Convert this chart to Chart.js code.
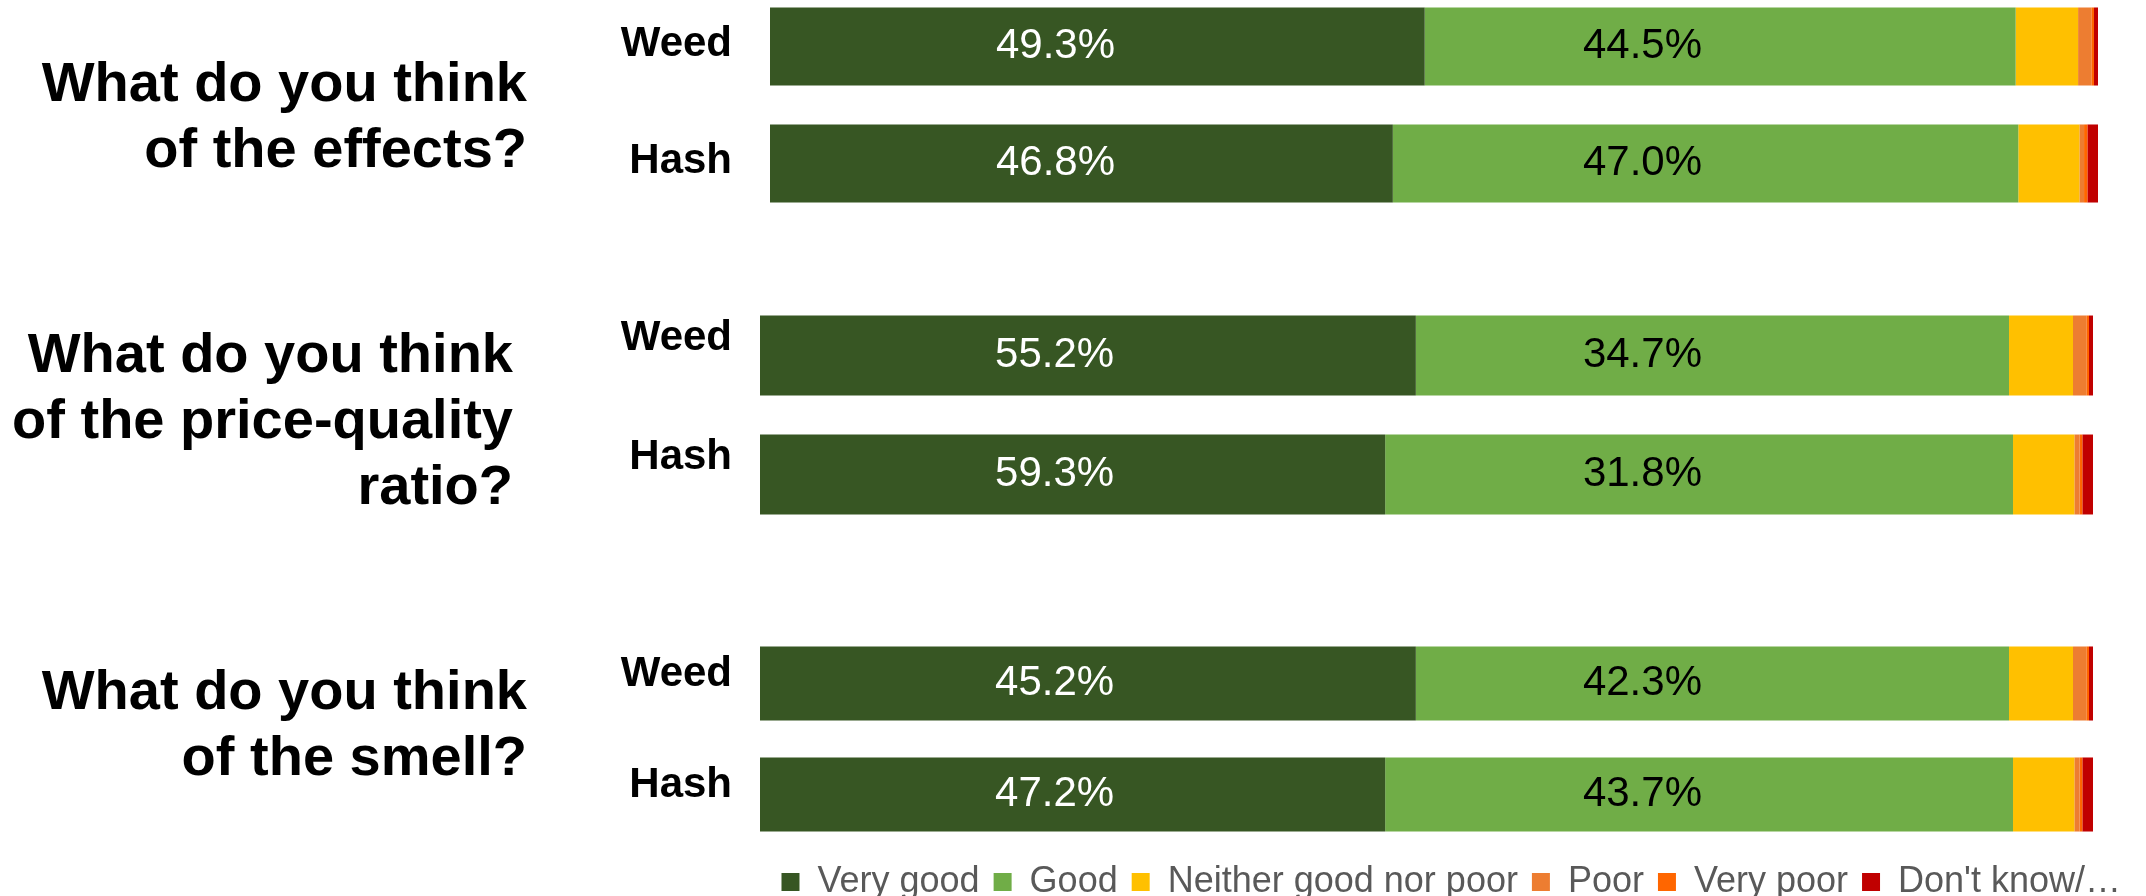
<!DOCTYPE html>
<html>
<head>
<meta charset="utf-8">
<title>Weed vs hash ratings</title>
<script src="https://cdn.jsdelivr.net/npm/chart.js@4.4.1/dist/chart.umd.min.js"></script>
<style>
  html, body { margin: 0; padding: 0; background: #fff; overflow: hidden; }
  body { width: 2146px; height: 896px; position: relative; font-family: "Liberation Sans", Arial, sans-serif; }
  .question { position: absolute; text-align: right; font-weight: bold; font-size: 56px; line-height: 66px; color: #000; white-space: nowrap; }
  canvas { position: absolute; }
</style>
</head>
<body>

<div class="question" style="right:1619px; top:49px">What do you think<br>of the effects?</div>
<div class="question" style="right:1633px; top:320px">What do you think<br>of the price-quality<br>ratio?</div>
<div class="question" style="right:1619px; top:657px">What do you think<br>of the smell?</div>

<canvas id="effects" width="1538" height="234" style="left:560px; top:-12px"></canvas>
<canvas id="price" width="1533" height="238" style="left:560px; top:296px"></canvas>
<canvas id="smell" width="1575" height="282" style="left:560px; top:628px"></canvas>

<script>
// products on each bar
const products = ['Weed', 'Hash'];

// answer categories, in stacking order
const answers = ['Very good', 'Good', 'Neither good nor poor', 'Poor', 'Very poor', "Don't know/\u2026"];

// segment lengths (% of respondents) as drawn, same order as answers
const effectsWeed = [49.3, 44.5, 4.7, 1.0, 0.2, 0.3];
const effectsHash = [46.9, 47.1, 4.6, 0.35, 0.25, 0.8];
const priceWeed = [49.2, 44.5, 4.8, 1.0, 0.2, 0.3];
const priceHash = [46.9, 47.1, 4.6, 0.4, 0.2, 0.8];
const smellWeed = [49.2, 44.5, 4.8, 1.0, 0.2, 0.3];
const smellHash = [46.9, 47.1, 4.6, 0.4, 0.2, 0.8];

// numbers printed on the bars (Very good, Good)
const effectsWeedShown = [49.3, 44.5];
const effectsHashShown = [46.8, 47.0];
const priceWeedShown = [55.2, 34.7];
const priceHashShown = [59.3, 31.8];
const smellWeedShown = [45.2, 42.3];
const smellHashShown = [47.2, 43.7];

const palette = ['#375623', '#70AD47', '#FFC000', '#ED7D31', '#FF6600', '#C00000'];
const FONT = '"Liberation Sans", Arial, sans-serif';

Chart.defaults.font.family = FONT;
Chart.defaults.animation = false;

// draws the printed percentages inside the two green segments
const barText = {
  id: 'barText',
  afterDatasetsDraw(chart, args, opts) {
    const ctx = chart.ctx;
    const x = chart.scales.x;
    const meta = chart.getDatasetMeta(0);
    ctx.save();
    ctx.font = '42px ' + FONT;
    ctx.textAlign = 'center';
    ctx.textBaseline = 'middle';
    opts.shown.forEach((row, i) => {
      const y = meta.data[i].y;
      row.forEach((v, k) => {
        ctx.fillStyle = k === 0 ? '#ffffff' : '#000000';
        ctx.fillText(v.toFixed(1) + '%', x.getPixelForValue(opts.anchors[k]), y);
      });
    });
    ctx.restore();
  }
};

function makeChart(id, weed, hash, shown, o) {
  const datasets = answers.map((a, k) => ({
    label: a,
    data: [weed[k], hash[k]],
    backgroundColor: palette[k],
    borderWidth: 0,
    barPercentage: o.bar,
    categoryPercentage: 1
  }));

  const scales = {
    x: { stacked: true, min: 0, max: 100, display: false },
    y: {
      stacked: true,
      grid: { display: false, drawTicks: false },
      border: { display: false },
      ticks: {
        color: '#000',
        padding: o.tickPad,
        labelOffset: o.tickShift,
        font: { size: 42, weight: 'bold' }
      },
      afterFit(s) {
        s.width = o.axisWidth;
        // tick padding should not eat into the plot height
        s.paddingTop = 0;
        s.paddingBottom = 0;
      }
    }
  };
  if (o.legend) {
    // keeps room on the right so the legend can run past the bars
    scales.y2 = {
      type: 'linear',
      position: 'right',
      grid: { display: false, drawTicks: false },
      border: { display: false },
      ticks: { display: false },
      afterFit(s) { s.width = o.rightGap; s.paddingTop = 0; s.paddingBottom = 0; }
    };
  }

  return new Chart(document.getElementById(id), {
    type: 'bar',
    data: { labels: products, datasets: datasets },
    options: {
      indexAxis: 'y',
      responsive: false,
      events: [],
      layout: { padding: 0 },
      scales: scales,
      plugins: {
        legend: {
          display: !!o.legend,
          position: 'bottom',
          align: 'end',
          labels: {
            color: '#595959',
            font: { size: 36 },
            boxWidth: 18,
            boxHeight: 18,
            padding: 14
          }
        },
        tooltip: { enabled: false },
        barText: { shown: shown, anchors: o.anchors }
      }
    },
    plugins: [barText]
  });
}

makeChart('effects', effectsWeed, effectsHash, [effectsWeedShown, effectsHashShown],
  { bar: 0.667, tickPad: 38, tickShift: -2, axisWidth: 210, anchors: [21.5, 65.7] });
makeChart('price', priceWeed, priceHash, [priceWeedShown, priceHashShown],
  { bar: 0.672, tickPad: 28, tickShift: -17, axisWidth: 200, anchors: [22.1, 66.2] });
makeChart('smell', smellWeed, smellHash, [smellWeedShown, smellHashShown],
  { bar: 0.667, tickPad: 28, tickShift: -9, axisWidth: 200, anchors: [22.1, 66.2], legend: true, rightGap: 42 });
</script>
</body>
</html>
